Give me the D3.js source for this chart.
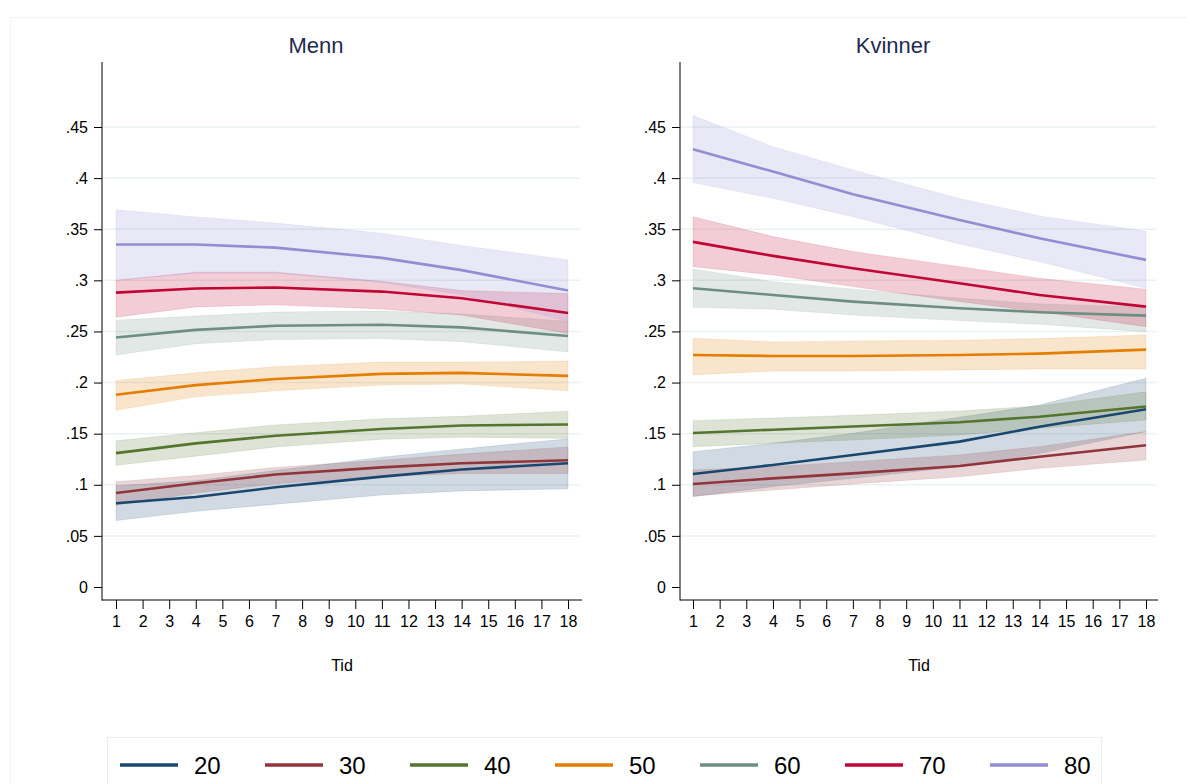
<!DOCTYPE html>
<html>
<head>
<meta charset="utf-8">
<script src="https://cdnjs.cloudflare.com/ajax/libs/d3/7.8.5/d3.min.js"></script>
<style>
  body { margin: 0; background: #fff; }
  svg { display: block; font-family: "Liberation Sans", Arial, sans-serif; }
</style>
</head>
<body>
<svg id="chart" width="1187" height="784"></svg>
<script>
// data
var tid = [1, 4, 7, 11, 14, 18]
var ages = ["20", "30", "40", "50", "60", "70", "80"]
var colors = ["#1a476f", "#90353b", "#55752f", "#e37e00", "#6e8e84", "#c10534", "#938dd2"]
var xTicks = d3.range(1, 19)
var yTicks = [0, .05, .1, .15, .2, .25, .3, .35, .4, .45]
var yLabels = ["0", ".05", ".1", ".15", ".2", ".25", ".3", ".35", ".4", ".45"]

var mennMid = [
  [.082, .088, .0975, .108, .115, .121],
  [.092, .1015, .110, .117, .121, .124],
  [.131, .1405, .148, .1545, .158, .159],
  [.188, .1975, .2035, .2085, .2095, .2065],
  [.244, .2515, .2555, .2565, .254, .2455],
  [.288, .292, .293, .289, .2825, .268],
  [.335, .335, .332, .322, .310, .290]
]
var mennLo = [
  [.065, .074, .081, .090, .094, .096],
  [.080, .092, .101, .108, .111, .111],
  [.119, .128, .137, .1445, .1465, .1455],
  [.173, .186, .192, .1975, .1985, .192],
  [.227, .238, .242, .243, .240, .230],
  [.264, .274, .276, .272, .266, .248],
  [.300, .307, .307, .298, .286, .260]
]
var mennHi = [
  [.099, .104, .114, .127, .135, .145],
  [.103, .109, .117, .124, .130, .137],
  [.143, .151, .1585, .1645, .167, .172],
  [.202, .2095, .2155, .220, .220, .221],
  [.261, .265, .269, .270, .267, .260],
  [.300, .308, .308, .299, .290, .287],
  [.369, .362, .356, .346, .334, .320]
]
var kvinnerMid = [
  [.1106, .1194, .1292, .1422, .1568, .1738],
  [.1008, .1063, .1112, .1184, .1275, .1386],
  [.1507, .1539, .157, .1612, .1666, .1765],
  [.227, .226, .226, .227, .2283, .2322],
  [.2922, .2857, .2792, .2727, .2688, .2655],
  [.3376, .3239, .3118, .2971, .2857, .2743],
  [.4283, .4064, .3842, .3591, .3412, .320]
]
var kvinnerLo = [
  [.0884, .0982, .1063, .1177, .1305, .152],
  [.089, .0949, .1008, .1079, .1161, .1243],
  [.1373, .1406, .1438, .1487, .1552, .1634],
  [.2075, .2113, .2113, .2123, .2133, .2133],
  [.2737, .2717, .2661, .2606, .257, .2498],
  [.3134, .3053, .2939, .2792, .2694, .2547],
  [.3956, .3803, .3623, .3356, .3183, .2922]
]
var kvinnerHi = [
  [.1324, .1406, .1504, .166, .178, .2042],
  [.1145, .1177, .1226, .1292, .1373, .152],
  [.1627, .1653, .168, .1722, .1771, .1909],
  [.2433, .2397, .2407, .2414, .243, .2466],
  [.3112, .2987, .2913, .2825, .2769, .274],
  [.3623, .3428, .3281, .3134, .302, .2913],
  [.4612, .4308, .408, .380, .363, .348]
]

var svg = d3.select("#chart")

// outer frame (faint)
svg.append("path")
  .attr("d", "M10.5,784 V17.5 H1187")
  .attr("fill", "none").attr("stroke", "#eef3f5").attr("stroke-width", 1)

var y = d3.scaleLinear().domain([0, .45]).range([587, 127])

var panels = [
  { title: "Menn", mid: mennMid, lo: mennLo, hi: mennHi, axisX: 102, xr: [116, 568], end: 582, tx: 316 },
  { title: "Kvinner", mid: kvinnerMid, lo: kvinnerLo, hi: kvinnerHi, axisX: 680, xr: [693, 1146], end: 1158, tx: 893 }
]

panels.forEach(function(p) {
  var x = d3.scaleLinear().domain([1, 18]).range(p.xr)
  var g = svg.append("g")

  // gridlines
  g.selectAll("line.grid")
    .data(yTicks.filter(function(d) { return d > 0 }))
    .enter().append("line")
    .attr("class", "grid")
    .attr("x1", p.axisX).attr("x2", p.end - 2)
    .attr("y1", function(d) { return y(d) }).attr("y2", function(d) { return y(d) })
    .attr("stroke", "#eaf2f3").attr("stroke-width", 1.5)

  var area = d3.area()
    .x(function(d) { return x(d.t) })
    .y0(function(d) { return y(d.lo) })
    .y1(function(d) { return y(d.hi) })
  var line = d3.line()
    .x(function(d) { return x(d.t) })
    .y(function(d) { return y(d.v) })

  // confidence bands
  ages.forEach(function(a, i) {
    var pts = tid.map(function(t, j) { return { t: t, lo: p.lo[i][j], hi: p.hi[i][j] } })
    g.append("path")
      .attr("d", area(pts))
      .attr("fill", colors[i]).attr("fill-opacity", 0.2)
      .attr("stroke", colors[i]).attr("stroke-opacity", 0.12).attr("stroke-width", 1)
  })
  // lines
  ages.forEach(function(a, i) {
    var pts = tid.map(function(t, j) { return { t: t, v: p.mid[i][j] } })
    g.append("path")
      .attr("d", line(pts))
      .attr("fill", "none").attr("stroke", colors[i]).attr("stroke-width", 2.6)
  })

  // y axis
  var yAxis = d3.axisLeft(y).tickValues(yTicks).tickSize(8).tickPadding(6)
    .tickFormat(function(d, i) { return yLabels[i] })
  var ya = g.append("g").attr("transform", "translate(" + p.axisX + ",0)").call(yAxis)
  ya.select(".domain").attr("d", "M0,62V600.5")
  ya.selectAll("text").attr("font-size", 16).attr("fill", "#000").attr("font-family", "Liberation Sans, Arial")
  ya.selectAll("line").attr("stroke", "#000")
  ya.select(".domain").attr("stroke", "#000")

  // x axis
  var xAxis = d3.axisBottom(x).tickValues(xTicks).tickSize(9).tickPadding(7)
  var xa = g.append("g").attr("transform", "translate(0,600)").call(xAxis)
  xa.select(".domain").attr("d", "M" + p.axisX + ",0H" + p.end)
  xa.selectAll("text").attr("font-size", 16).attr("fill", "#000").attr("font-family", "Liberation Sans, Arial")
  xa.selectAll("line").attr("stroke", "#000")
  xa.select(".domain").attr("stroke", "#000")

  g.append("text")
    .attr("x", (p.axisX + p.end) / 2).attr("y", 671)
    .attr("text-anchor", "middle").attr("font-size", 16).attr("fill", "#000")
    .text("Tid")

  g.append("text")
    .attr("x", p.tx).attr("y", 53)
    .attr("text-anchor", "middle").attr("font-size", 22).attr("fill", "#1e2b4f")
    .text(p.title)
})

// legend
svg.append("rect")
  .attr("x", 107.5).attr("y", 737.5).attr("width", 994).attr("height", 60)
  .attr("fill", "#fff").attr("stroke", "#e6eef1").attr("stroke-width", 1)

var leg = svg.selectAll("g.leg").data(ages).enter().append("g")
  .attr("class", "leg")
  .attr("transform", function(d, i) { return "translate(" + (120 + i * 145) + ",765)" })
leg.append("line")
  .attr("x1", 0).attr("x2", 58).attr("y1", 0).attr("y2", 0)
  .attr("stroke", function(d, i) { return colors[i] }).attr("stroke-width", 3.5)
leg.append("text")
  .attr("x", 74).attr("y", 9).attr("font-size", 24).attr("fill", "#000")
  .text(function(d) { return d })
</script>
</body>
</html>
